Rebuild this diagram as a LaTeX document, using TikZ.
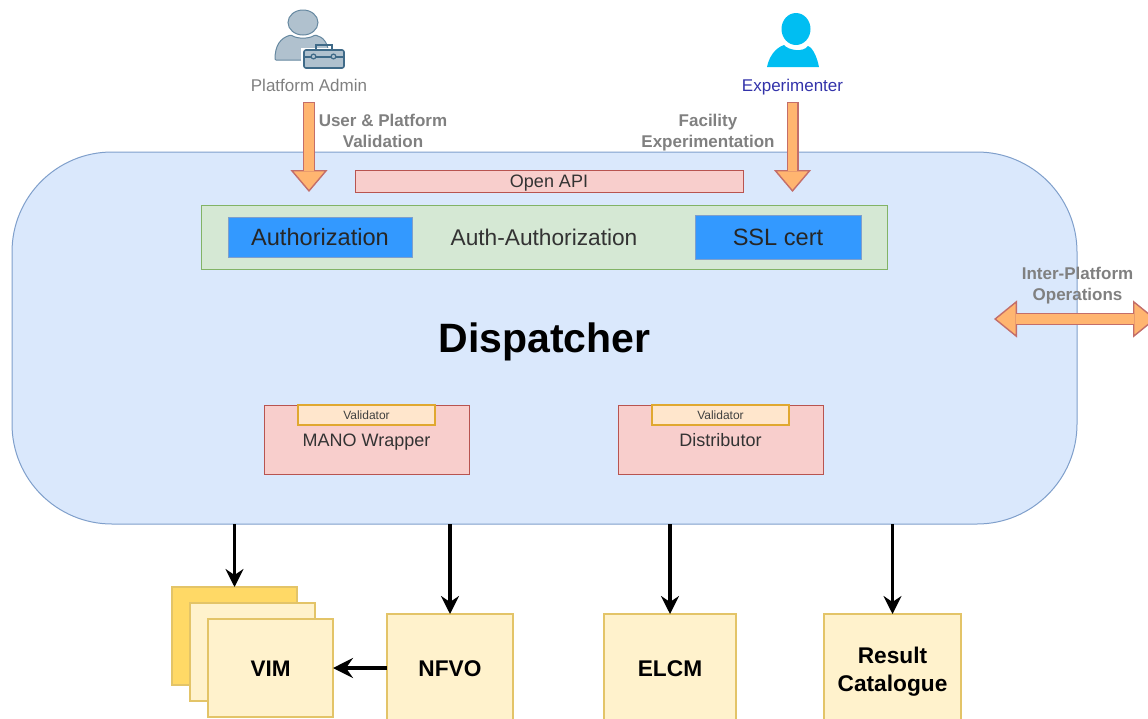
\documentclass[tikz,border=0pt]{standalone}
\usepackage{fontspec}
\setmainfont{Liberation Sans}
\usepackage{xcolor}
\usetikzlibrary{positioning,calc,arrows.meta}

\definecolor{hubfill}{HTML}{DAE8FC}
\definecolor{hubedge}{HTML}{7F9FCB}
\definecolor{redfill}{HTML}{F8CECC}
\definecolor{rededge}{HTML}{B85450}
\definecolor{greenfill}{HTML}{D5E8D4}
\definecolor{greenedge}{HTML}{82B366}
\definecolor{bluefill}{HTML}{3399FF}
\definecolor{valfill}{HTML}{FFE6CC}
\definecolor{valedge}{HTML}{E0A830}
\definecolor{yelfill}{HTML}{FFF2CC}
\definecolor{yeldark}{HTML}{FFD966}
\definecolor{yeledge}{HTML}{E3C468}
\definecolor{fatfill}{HTML}{FFB570}
\definecolor{greytext}{HTML}{808080}
\definecolor{exptext}{HTML}{3333AA}
\definecolor{expblue}{HTML}{00BEF2}
\definecolor{adminfill}{HTML}{B0C1CE}
\definecolor{adminedge}{HTML}{3F6A88}

\begin{document}
\begin{tikzpicture}[
    x=1pt, y=-1pt,
    box/.style={rectangle, draw, outer sep=0pt, inner sep=0pt, line width=1pt, text depth=0pt},
    redbox/.style={box, fill=redfill, draw=rededge, minimum width=205pt, minimum height=69pt, text height=13pt, font=\fontsize{18}{22}\selectfont, text=black!80},
    bluebox/.style={box, fill=bluefill, draw=hubedge, text height=17pt, font=\fontsize{23.6}{28}\selectfont, text=black!85},
    valbox/.style={box, fill=valfill, draw=valedge, line width=1.2pt, minimum width=137pt, minimum height=20pt, text height=8.6pt, font=\fontsize{12}{14}\selectfont, text=black!75},
    yelbox/.style={box, fill=yelfill, draw=yeledge, line width=1.2pt, minimum height=108pt, text height=16.3pt, font=\bfseries\fontsize{22.7}{27.5}\selectfont, align=center},
    vimbox/.style={box, fill=yelfill, draw=yeledge, line width=1.2pt, minimum width=125pt, minimum height=98pt, text height=16.2pt, font=\bfseries\fontsize{22.5}{27}\selectfont},
    note/.style={inner sep=0pt, outer sep=0pt, align=center, text=greytext, font=\bfseries\fontsize{17}{21}\selectfont},
    person/.style={inner sep=0pt, outer sep=0pt, minimum height=34pt, text height=12.2pt, text depth=0pt, font=\fontsize{17}{20}\selectfont},
    line/.style={draw, line width=3.6pt, -{Stealth[length=18pt, width=18pt, inset=6pt]}},
    fat/.style={draw=rededge!85, line width=12pt, -{Triangle[length=22pt, width=37pt, line width=1.4pt, fill=fatfill, color=rededge!85]},
        postaction={draw=fatfill, line width=9.6pt, -, shorten >=21pt, shorten <=1.2pt}},
    fatboth/.style={draw=rededge!85, line width=12pt, {Triangle[length=23pt, width=37pt, line width=1.4pt, fill=fatfill, color=rededge!85]}-{Triangle[length=23pt, width=37pt, line width=1.4pt, fill=fatfill, color=rededge!85]},
        postaction={draw=fatfill, line width=9.6pt, -, shorten >=22pt, shorten <=22pt}}
]
\useasboundingbox (0,0) rectangle (1148,718);

\node [box, fill=hubfill, draw=hubedge, rounded corners=100pt, minimum width=1065pt, minimum height=372pt, text height=29.5pt, font=\bfseries\fontsize{41}{48}\selectfont] (dispatcher) at (544.5,338) {Dispatcher};

\node [box, fill=redfill, draw=rededge, minimum width=388pt, minimum height=22pt, text height=13pt, font=\fontsize{18}{22}\selectfont, text=black!80] (openapi) at (549,181) {Open API};
\node [box, fill=greenfill, draw=greenedge, minimum width=686pt, minimum height=64pt, text height=16.3pt, font=\fontsize{22.7}{27}\selectfont, text=black!80] (auth) at (544,237) {Auth-Authorization};
\node [bluebox, minimum width=184pt, minimum height=40pt] (authz) at (320,237) {Authorization};
\node [bluebox, minimum width=166pt, minimum height=44pt] (ssl) at (778,237) {SSL cert};

\node [redbox] (mano) at (366.5,439.5) {MANO Wrapper};
\node [redbox, right=149pt of mano] (distributor) {Distributor};
\node [valbox, anchor=north] (valmano) at (mano.north) {Validator};
\node [valbox, anchor=north] (valdist) at (distributor.north) {Validator};

\node [box, fill=yeldark, draw=yeledge, line width=1.2pt, minimum width=125pt, minimum height=98pt] (vimback) at (234.5,636) {};
\node [vimbox] (vimmid) at ($(vimback)+(18,16)$) {};
\node [vimbox] (vimfront) at ($(vimmid)+(18,16)$) {VIM};
\node [yelbox, minimum width=126pt, right=54pt of vimfront] (nfvo) {NFVO};
\node [yelbox, minimum width=132pt, right=91pt of nfvo] (elcm) {ELCM};
\node [yelbox, minimum width=137pt, right=88pt of elcm, text height=, text depth=] (result) {\rule{0pt}{24pt}Result\\[1pt]Catalogue};

\path [line] (vimback.north |- dispatcher.south) -- (vimback.north);
\path [line] (nfvo.north |- dispatcher.south) -- (nfvo.north);
\path [line] (elcm.north |- dispatcher.south) -- (elcm.north);
\path [line] (result.north |- dispatcher.south) -- (result.north);
\path [line, line width=4.2pt, -{Stealth[length=20pt, width=20pt, inset=7pt]}] (nfvo.west) -- (vimfront.east);

\node [person, text=greytext] (admin) at (309,85) {Platform Admin};
\node [person, text=exptext] (experimenter) at (792.5,85) {Experimenter};
\coordinate (admintip) at (309,192);
\coordinate (experimentertip) at (792.5,192);
\coordinate (interleft) at (994,319);
\coordinate (interright) at (1156,319);

\path [fat] (admin.south) -- (admintip);
\path [fat] (experimenter.south) -- (experimentertip);
\path [fatboth] (interleft) -- (interright);

\node [note] (validation) at (383,130.5) {User \& Platform\\Validation};
\node [note] (facility) at (708,132.5) {Facility\\Experimentation};
\node [note] (inter) at (1077.5,285.5) {Inter-Platform\\Operations};

\draw [fill=adminfill, draw=adminedge!80, line width=1pt] (303,22.5) ellipse [x radius=15, y radius=12.5];
\draw [fill=adminfill, draw=adminedge!80, line width=1pt, rounded corners=1pt] (275,60) .. controls (275,46) and (280,38) .. (291,35) .. controls (297,39) and (309,39) .. (315,35) .. controls (323,37) and (329,42) .. (329,60) -- cycle;
\draw [draw=white, line width=4pt, fill=white] (303,50) rectangle (344,68);
\draw [draw=adminedge, line width=1.6pt, fill=none] (316,50) -- (316,45) -- (332,45) -- (332,50);
\draw [fill=adminfill, draw=adminedge, line width=1.6pt, rounded corners=2pt] (304,50) rectangle (344,68);
\draw [draw=adminedge, line width=1.2pt] (304,57) -- (344,57);
\draw [fill=adminfill, draw=adminedge, line width=1.2pt] (313.5,56.5) circle (2.4);
\draw [fill=adminfill, draw=adminedge, line width=1.2pt] (333.5,56.5) circle (2.4);

\fill [expblue] (796,29) ellipse [x radius=14.5, y radius=16];
\fill [expblue] (767,67) .. controls (769,57) and (775,48) .. (784,45) .. controls (788,50) and (803,53) .. (808,46) .. controls (813,48) and (817,57) .. (819,67) -- cycle;

\end{tikzpicture}
\end{document}
